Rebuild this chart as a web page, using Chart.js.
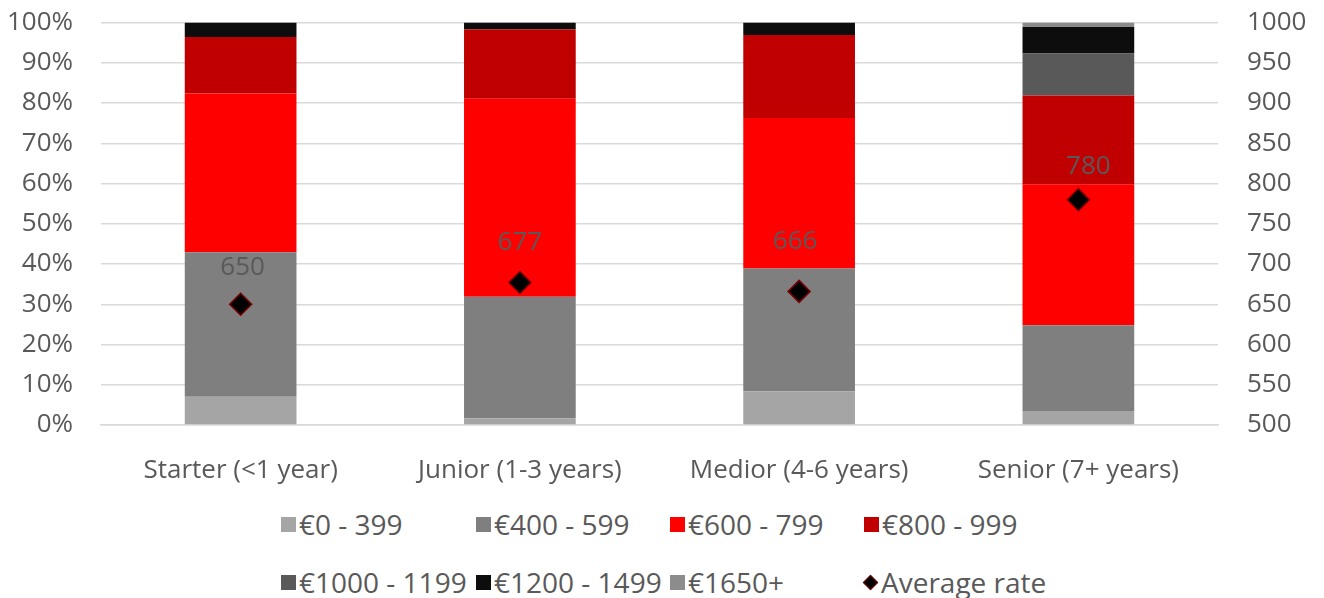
<!DOCTYPE html>
<html>
<head>
<meta charset="utf-8">
<script src="https://cdn.jsdelivr.net/npm/chart.js@4.4.1/dist/chart.umd.min.js"></script>
<style>
  body { margin: 0; background: #fff; }
  #wrap { position: relative; width: 1324px; height: 598px; overflow: hidden; font-family: "Open Sans", sans-serif; }
  #chartBox { position: absolute; left: 0; top: -22px; width: 1324px; height: 522px; }
  .lg { position: absolute; height: 40px; display: flex; align-items: center; font-size: 28px; color: #595959; white-space: nowrap; }
  .lg .box { width: 15px; height: 15px; margin-right: 3px; }
  .lg .dia { width: 9px; height: 9px; margin: 0 5px 0 1px; background: #000; border: 1px solid #7a0000; transform: rotate(45deg); }
</style>
</head>
<body>
<div id="wrap">
  <div id="chartBox"><canvas id="rateChart"></canvas></div>
</div>
<script>
const categories = ["Starter (<1 year)", "Junior (1-3 years)", "Medior (4-6 years)", "Senior (7+ years)"];
const bandNames = ["€0 - 399", "€400 - 599", "€600 - 799", "€800 - 999", "€1000 - 1199", "€1200 - 1499", "€1650+"];
const bandColors = ["#a5a5a5", "#7f7f7f", "#ff0000", "#c00000", "#595959", "#0d0d0d", "#8c8c8c"];

// share of respondents per rate band (%)
const band0 = [7.0, 1.7, 8.3, 3.5];
const band400 = [35.9, 30.2, 30.6, 21.3];
const band600 = [39.5, 49.2, 37.4, 35.0];
const band800 = [14.0, 17.2, 20.6, 22.1];
const band1000 = [0, 0, 0, 10.4];
const band1200 = [3.6, 1.7, 3.1, 6.6];
const band1650 = [0, 0, 0, 1.1];
const bandValues = [band0, band400, band600, band800, band1000, band1200, band1650];

const averageRate = [650, 677, 666, 780];

const TEXT = "#595959";
const FONT = "'Open Sans', sans-serif";

const datasets = bandNames.map((name, i) => ({
  type: "bar",
  label: name,
  data: bandValues[i],
  backgroundColor: bandColors[i],
  borderWidth: 0,
  categoryPercentage: 1,
  barPercentage: 0.4,
  yAxisID: "y",
  order: 1,
}));

datasets.push({
  type: "line",
  label: "Average rate",
  data: averageRate,
  yAxisID: "y2",
  showLine: false,
  pointStyle: "rectRot",
  pointRadius: 11,
  pointBackgroundColor: "#000",
  pointBorderColor: "#7a0000",
  pointBorderWidth: 1.5,
  order: 0,
});

// value labels above the average-rate markers (hand-nudged like the original)
const pointLabels = {
  id: "pointLabels",
  afterDatasetsDraw(chart, args, opts) {
    const idx = chart.data.datasets.length - 1;
    const meta = chart.getDatasetMeta(idx);
    const ctx = chart.ctx;
    ctx.save();
    ctx.font = "26px " + FONT;
    ctx.fillStyle = TEXT;
    ctx.textAlign = "center";
    ctx.textBaseline = "middle";
    meta.data.forEach((pt, i) => {
      const [dx, dy] = opts.nudge[i] || [0, 38];
      ctx.fillText(String(averageRate[i]), pt.x + dx, pt.y - dy);
    });
    ctx.restore();
  },
};

const tickFont = { family: FONT, size: 26 };

new Chart(document.getElementById("rateChart"), {
  data: { labels: categories, datasets },
  options: {
    responsive: true,
    maintainAspectRatio: false,
    animation: false,
    layout: { padding: { top: 0, left: 0, right: 0, bottom: 0 } },
    plugins: {
      legend: { display: false },
      tooltip: { enabled: false },
      pointLabels: { nudge: [[2, 37], [0, 40], [-4, 50], [10, 33]] },
    },
    scales: {
      x: {
        stacked: true,
        grid: { display: false },
        border: { color: "#d9d9d9", width: 1.5 },
        ticks: { font: tickFont, color: TEXT, padding: 22 },
        afterFit(scale) { scale.height = 75; },
      },
      y: {
        stacked: true,
        min: 0,
        max: 100,
        grid: { color: "#d9d9d9", lineWidth: 1.5, drawTicks: false },
        border: { display: false },
        ticks: {
          stepSize: 10,
          font: tickFont,
          color: TEXT,
          padding: 28,
          callback: (v) => v + "%",
        },
        afterFit(scale) { scale.width = 101; },
      },
      y2: {
        position: "right",
        min: 500,
        max: 1000,
        grid: { display: false, drawTicks: false },
        border: { display: false },
        ticks: { stepSize: 50, font: tickFont, color: TEXT, padding: 29, callback: (v) => String(v) },
        afterFit(scale) { scale.width = 106; },
      },
    },
  },
  plugins: [pointLabels],
});

// legend laid out in four fixed columns, two rows
const wrap = document.getElementById("wrap");
const legendCols = [281, 476, 670, 864];
const legendRows = [524, 582];
const legendItems = bandNames.map((name, i) => ({ name, color: bandColors[i] }));
legendItems.push({ name: "Average rate", marker: true });

legendItems.forEach((item, i) => {
  const el = document.createElement("div");
  el.className = "lg";
  el.style.left = legendCols[i % 4] + "px";
  el.style.top = (legendRows[Math.floor(i / 4)] - 20) + "px";
  const mark = document.createElement("span");
  if (item.marker) {
    mark.className = "dia";
  } else {
    mark.className = "box";
    mark.style.background = item.color;
  }
  el.appendChild(mark);
  el.appendChild(document.createTextNode(item.name));
  wrap.appendChild(el);
});
</script>
</body>
</html>
